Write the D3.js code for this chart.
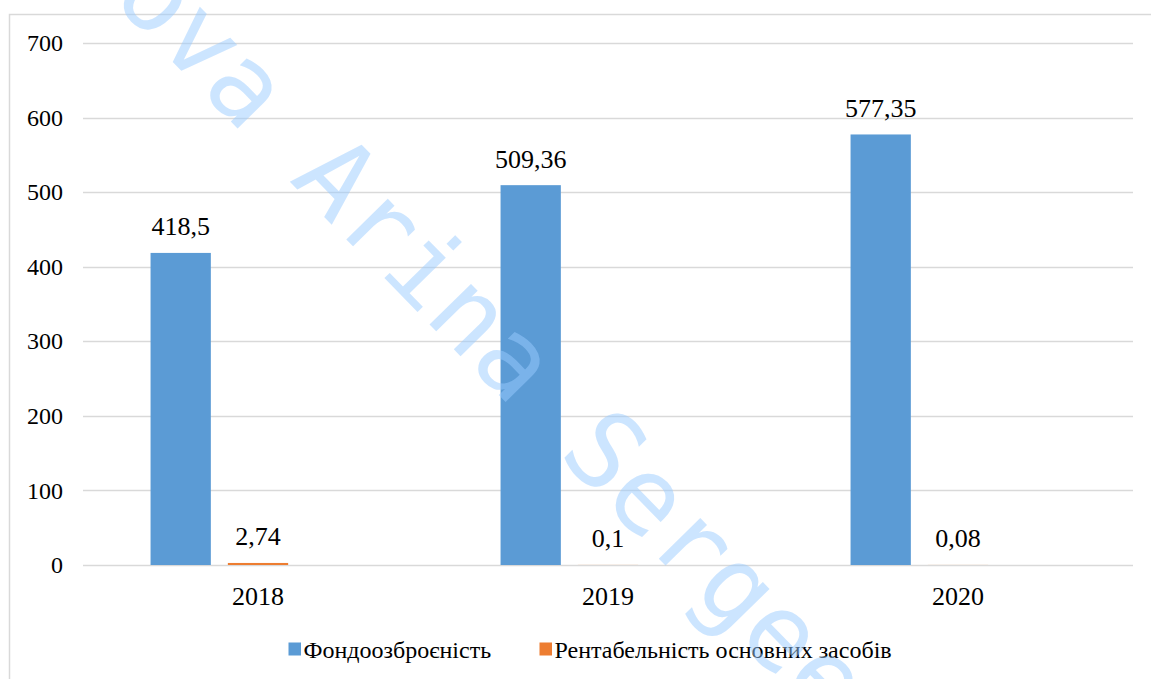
<!DOCTYPE html>
<html>
<head>
<meta charset="utf-8">
<script src="https://cdn.jsdelivr.net/npm/d3@7"></script>
<style>
  html, body { margin: 0; padding: 0; background: #fff; }
  svg { display: block; }
</style>
</head>
<body>
<svg id="chart" width="1151" height="679"></svg>
<script>
// ---- data ----
const years = ["2018", "2019", "2020"];
const seriesNames = ["Фондоозброєність", "Рентабельність основних засобів"];
const fondoozbroienist = [418.5, 509.36, 577.35];
const rentabelnist = [2.74, 0.1, 0.08];
const fondoLabels = ["418,5", "509,36", "577,35"];
const rentLabels = ["2,74", "0,1", "0,08"];
const yTicks = [0, 100, 200, 300, 400, 500, 600, 700];
const seriesColors = ["#5B9BD5", "#ED7D31"];
const watermarkText = "ova Arina Sergee";

const seriesValues = [fondoozbroienist, rentabelnist];
const seriesLabels = [fondoLabels, rentLabels];

const SERIF = "Liberation Serif";
const W = 1151, H = 679;
const plot = { left: 83, right: 1133, top: 43, bottom: 565 };

const svg = d3.select("#chart");
svg.append("rect").attr("width", W).attr("height", H).attr("fill", "#fff");

// chart area border (extends beyond right/bottom edges)
svg.append("rect")
  .attr("x", 9.5).attr("y", 14.5)
  .attr("width", 1160).attr("height", 700)
  .attr("fill", "none").attr("stroke", "#d9d9d9").attr("stroke-width", 1.5);

const y = d3.scaleLinear().domain([0, 700]).range([plot.bottom, plot.top]);
const x = d3.scaleBand().domain(years).range([plot.left, plot.right]).padding(0);
// inner slots: two series plus an empty third slot as in the original layout
const slots = seriesNames.concat(["__empty__"]);
const bw = x.bandwidth();
const xi = d3.scaleBand().domain(slots)
  .range([bw * 0.193, bw * 0.807]).paddingInner(0.22).paddingOuter(0);

// gridlines
svg.append("g")
  .selectAll("line").data(yTicks).join("line")
  .attr("x1", plot.left).attr("x2", plot.right)
  .attr("y1", d => Math.round(y(d)) + 0.5).attr("y2", d => Math.round(y(d)) + 0.5)
  .attr("stroke", "#d9d9d9").attr("stroke-width", 1.5);

// y axis labels
const yAxis = d3.axisLeft(y).tickValues(yTicks).tickSize(0).tickPadding(20);
const gy = svg.append("g").attr("transform", `translate(${plot.left},0)`).call(yAxis);
gy.select(".domain").remove();
gy.selectAll("text")
  .style("font-family", SERIF).style("font-size", "24px").style("fill", "#000");

// x axis labels
const xAxis = d3.axisBottom(x).tickSize(0).tickPadding(22);
const gx = svg.append("g").attr("transform", `translate(0,${plot.bottom})`).call(xAxis);
gx.select(".domain").remove();
gx.selectAll("text")
  .style("font-family", SERIF).style("font-size", "26px").style("fill", "#000");

// bars
const barData = [];
seriesNames.forEach((s, si) => {
  years.forEach((yr, i) => {
    barData.push({ series: s, si, year: yr, value: seriesValues[si][i], label: seriesLabels[si][i] });
  });
});

svg.append("g").selectAll("rect").data(barData).join("rect")
  .attr("x", d => x(d.year) + xi(d.series))
  .attr("width", xi.bandwidth())
  .attr("y", d => y(d.value))
  .attr("height", d => y(0) - y(d.value))
  .attr("fill", d => seriesColors[d.si]);

// data labels
svg.append("g").selectAll("text").data(barData).join("text")
  .attr("x", d => x(d.year) + xi(d.series) + xi.bandwidth() / 2)
  .attr("y", d => y(d.value) - 17.5)
  .attr("text-anchor", "middle")
  .style("font-family", SERIF).style("font-size", "26px").style("fill", "#000")
  .text(d => d.label);

// legend
const legendItems = [
  { name: seriesNames[0], color: seriesColors[0], x: 288.5 },
  { name: seriesNames[1], color: seriesColors[1], x: 539.5 }
];
const lg = svg.append("g");
legendItems.forEach(it => {
  lg.append("rect").attr("x", it.x).attr("y", 642.5).attr("width", 12.5).attr("height", 13).attr("fill", it.color);
  lg.append("text").attr("x", it.x + 15).attr("y", 658)
    .style("font-family", SERIF).style("font-size", "24px").style("fill", "#000").text(it.name);
});

// watermark (semi-transparent, over everything)
svg.append("text")
  .attr("transform", "translate(110,-2) rotate(45.6)")
  .attr("x", 0).attr("y", 0)
  .style("font-family", "DejaVu Sans Mono")
  .style("font-size", "106px")
  .style("fill", "#99ccff").style("fill-opacity", 0.5)
  .text(watermarkText);
</script>
</body>
</html>
